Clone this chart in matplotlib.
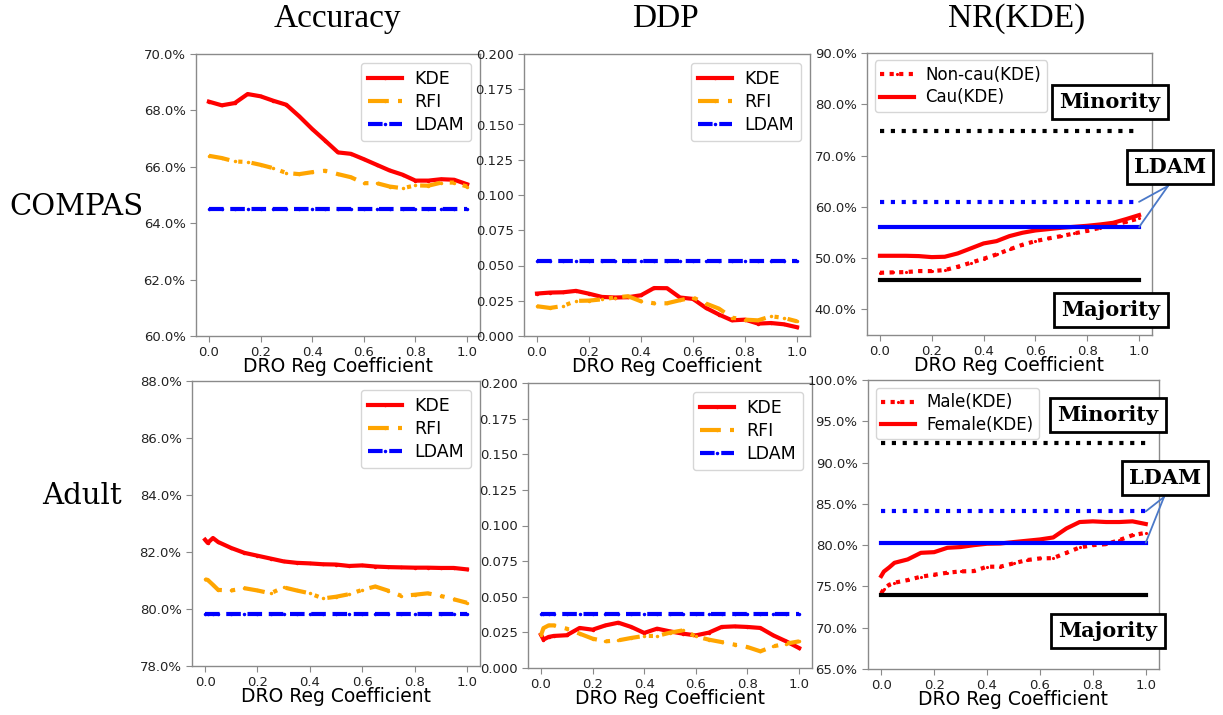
import matplotlib
matplotlib.use("Agg")
import matplotlib.pyplot as plt
from matplotlib.ticker import FuncFormatter
import numpy as np

# ---------------- data ----------------
x_compas = [0.0, 0.05, 0.1, 0.15, 0.2, 0.25, 0.3, 0.35, 0.4, 0.45, 0.5,
            0.55, 0.6, 0.65, 0.7, 0.75, 0.8, 0.85, 0.9, 0.95, 1.0]
x_adult = [0.0, 0.01, 0.03, 0.05, 0.1, 0.15, 0.2, 0.25, 0.3, 0.35, 0.4, 0.45,
           0.5, 0.55, 0.6, 0.65, 0.7, 0.75, 0.8, 0.85, 0.9, 0.95, 1.0]

# COMPAS accuracy (%)
compas_acc_kde = [68.31, 68.18, 68.26, 68.58, 68.50, 68.34, 68.20, 67.79, 67.34, 66.93, 66.51,
                  66.46, 66.27, 66.07, 65.87, 65.72, 65.51, 65.51, 65.56, 65.54, 65.38]
compas_acc_rfi = [66.39, 66.31, 66.19, 66.17, 66.07, 65.95, 65.78, 65.74, 65.81, 65.86, 65.74,
                  65.63, 65.42, 65.42, 65.30, 65.24, 65.34, 65.33, 65.44, 65.44, 65.30]
compas_acc_ldam = 64.5

# COMPAS DDP
compas_ddp_kde = [0.0301, 0.0308, 0.0310, 0.0320, 0.0300, 0.0277, 0.0273, 0.0275, 0.0289, 0.0340,
                  0.0339, 0.0273, 0.0263, 0.0199, 0.0152, 0.0111, 0.0116, 0.0088, 0.0092, 0.0083, 0.0062]
compas_ddp_rfi = [0.0211, 0.0199, 0.0213, 0.0249, 0.0251, 0.0260, 0.0273, 0.0282, 0.0246, 0.0232,
                  0.0232, 0.0254, 0.0273, 0.0230, 0.0194, 0.0130, 0.0116, 0.0111, 0.0140, 0.0128, 0.0104]
compas_ddp_ldam = 0.0533

# COMPAS NR (%)
compas_nr_noncau = [47.14, 47.21, 47.27, 47.47, 47.47, 47.66, 48.31, 49.09, 49.87, 50.71, 51.69,
                    52.60, 53.31, 53.83, 54.29, 54.81, 55.32, 55.91, 56.43, 57.08, 57.73]
compas_nr_cau = [50.45, 50.45, 50.45, 50.39, 50.19, 50.26, 50.91, 51.88, 52.86, 53.31, 54.29,
                 54.94, 55.39, 55.65, 55.91, 56.10, 56.30, 56.56, 56.88, 57.60, 58.38]
compas_nr_minority = 74.8
compas_nr_ldam_minority = 60.97
compas_nr_ldam_majority = 56.04
compas_nr_majority = 45.78

# Adult accuracy (%)
adult_acc_kde = [82.43, 82.32, 82.49, 82.35, 82.14, 81.97, 81.87, 81.77, 81.67, 81.62, 81.60, 81.57,
                 81.56, 81.51, 81.53, 81.49, 81.47, 81.46, 81.45, 81.45, 81.44, 81.44, 81.39]
adult_acc_rfi = [81.04, 81.02, 80.85, 80.67, 80.65, 80.73, 80.65, 80.55, 80.76, 80.65, 80.55, 80.37,
                 80.43, 80.52, 80.67, 80.79, 80.64, 80.46, 80.50, 80.55, 80.46, 80.34, 80.22]
adult_acc_ldam = 79.81

# Adult DDP
adult_ddp_kde = [0.0234, 0.0200, 0.0218, 0.0225, 0.0230, 0.0281, 0.0269, 0.0299, 0.0318, 0.0288, 0.0246,
                 0.0276, 0.0257, 0.0241, 0.0229, 0.0248, 0.0288, 0.0292, 0.0288, 0.0281, 0.0229, 0.0187, 0.0140]
adult_ddp_rfi = [0.0229, 0.0280, 0.0299, 0.0299, 0.0276, 0.0241, 0.0206, 0.0187, 0.0194, 0.0211, 0.0225,
                 0.0225, 0.0248, 0.0264, 0.0222, 0.0199, 0.0182, 0.0164, 0.0147, 0.0117, 0.0152, 0.0171, 0.0187]
adult_ddp_ldam = 0.0381

# Adult NR (%)
adult_nr_male = [74.16, 74.70, 75.20, 75.45, 75.77, 76.18, 76.42, 76.66, 76.82, 76.86, 77.39, 77.39,
                 77.79, 78.19, 78.39, 78.43, 79.07, 79.72, 80.00, 80.12, 80.61, 81.21, 81.49]
adult_nr_female = [76.26, 76.80, 77.30, 77.86, 78.27, 79.07, 79.15, 79.68, 79.77, 80.00, 80.17, 80.20,
                   80.37, 80.53, 80.69, 80.93, 82.02, 82.80, 82.88, 82.80, 82.80, 82.88, 82.56]
adult_nr_minority = 92.33
adult_nr_ldam_minority = 84.09
adult_nr_ldam_majority = 80.30
adult_nr_majority = 73.96

col_titles = ["Accuracy", "DDP", "NR(KDE)"]
row_titles = ["COMPAS", "Adult"]
xlabel = "DRO Reg Coefficient"

# ---------------- figure ----------------
W, H = 1223, 715
fig = plt.figure(figsize=(W / 100, H / 100), dpi=100)


def add_axes_px(left, top, right, bottom):
    return fig.add_axes([left / W, 1 - bottom / H, (right - left) / W, (bottom - top) / H])


pct = FuncFormatter(lambda v, p: f"{v:.1f}%")
ddpf = FuncFormatter(lambda v, p: f"{v:.3f}")
RED, ORANGE, BLUE = "#ff0000", "#ffa500", "#0000ff"
LW = 3
LEG = dict(fontsize=12.5, handlelength=2.0, borderpad=0.4, labelspacing=0.3,
           handletextpad=0.7, borderaxespad=0.5)
LEG_NR = dict(fontsize=12, handlelength=2.0, borderpad=0.35, labelspacing=0.25,
              handletextpad=0.7, borderaxespad=0.45)


def style(ax):
    for s in ax.spines.values():
        s.set_color("#8a8a8a")
        s.set_linewidth(1.0)
    ax.tick_params(colors="#8a8a8a", labelcolor="#222222", labelsize=9.5, length=4)
    ax.set_xticks([0, 0.2, 0.4, 0.6, 0.8, 1.0])
    ax.set_xlabel(xlabel, fontsize=13.5, labelpad=-1.5)


def three_lines(ax, x, kde, rfi, ldam):
    ax.plot(x, kde, color=RED, lw=LW, marker='.', ms=3, label="KDE")
    ax.plot(x, rfi, color=ORANGE, lw=LW, marker='.', ms=3, ls=(0, (5, 2.2, 1, 2.2)), label="RFI")
    ax.plot(x, [ldam] * len(x), color=BLUE, lw=LW, marker='.', ms=3, ls=(0, (3.5, 1.6)), label="LDAM")
    ax.legend(loc="upper right", **LEG)


def nr_lines(ax, x, dotted, solid, lab_dotted, lab_solid, mino, ldam_mino, ldam_majo, majo):
    ax.plot(x, dotted, color=RED, lw=LW, ls=(0, (1, 1.3)), marker='.', ms=2.5, label=lab_dotted)
    ax.plot(x, solid, color=RED, lw=LW, label=lab_solid)
    ax.plot(x_compas, [mino] * len(x_compas), color="black", lw=LW, ls=(0, (1, 1.6)), zorder=6)
    ax.plot(x_compas, [ldam_mino] * len(x_compas), color=BLUE, lw=LW, ls=(0, (1, 1.6)))
    ax.plot([x[0], x[-1]], [ldam_majo, ldam_majo], color=BLUE, lw=LW)
    ax.plot([x[0], x[-1]], [majo, majo], color="black", lw=LW)
    ax.legend(loc="upper left", **LEG_NR)


# Row 1
ax1 = add_axes_px(196, 54, 480, 336)
three_lines(ax1, x_compas, compas_acc_kde, compas_acc_rfi, compas_acc_ldam)
ax1.set_ylim(60, 70)
ax1.set_yticks([60, 62, 64, 66, 68, 70])
ax1.yaxis.set_major_formatter(pct)
style(ax1)

ax2 = add_axes_px(524, 54, 810, 336)
three_lines(ax2, x_compas, compas_ddp_kde, compas_ddp_rfi, compas_ddp_ldam)
ax2.set_ylim(0, 0.2)
ax2.set_yticks(np.arange(0, 0.2001, 0.025))
ax2.yaxis.set_major_formatter(ddpf)
style(ax2)

ax3 = add_axes_px(867, 53, 1152, 335)
nr_lines(ax3, x_compas, compas_nr_noncau, compas_nr_cau, "Non-cau(KDE)", "Cau(KDE)",
         compas_nr_minority, compas_nr_ldam_minority, compas_nr_ldam_majority, compas_nr_majority)
ax3.set_ylim(35, 90)
ax3.set_yticks([40, 50, 60, 70, 80, 90])
ax3.yaxis.set_major_formatter(pct)
style(ax3)

# Row 2
ax4 = add_axes_px(192, 381, 480, 666)
three_lines(ax4, x_adult, adult_acc_kde, adult_acc_rfi, adult_acc_ldam)
ax4.set_ylim(78, 88)
ax4.set_yticks([78, 80, 82, 84, 86, 88])
ax4.yaxis.set_major_formatter(pct)
style(ax4)

ax5 = add_axes_px(528, 383, 812, 668)
three_lines(ax5, x_adult, adult_ddp_kde, adult_ddp_rfi, adult_ddp_ldam)
ax5.set_ylim(0, 0.2)
ax5.set_yticks(np.arange(0, 0.2001, 0.025))
ax5.yaxis.set_major_formatter(ddpf)
style(ax5)

ax6 = add_axes_px(868, 380, 1159, 669)
nr_lines(ax6, x_adult, adult_nr_male, adult_nr_female, "Male(KDE)", "Female(KDE)",
         adult_nr_minority, adult_nr_ldam_minority, adult_nr_ldam_majority, adult_nr_majority)
ax6.set_ylim(65, 100)
ax6.set_yticks([65, 70, 75, 80, 85, 90, 95, 100])
ax6.yaxis.set_major_formatter(pct)
style(ax6)

# Column and row titles
for cx, t in zip([337, 665, 1017], col_titles):
    fig.text(cx / W, 1 - 19 / H, t, ha="center", va="center",
             family="Liberation Serif", fontsize=24)
fig.text(76 / W, 1 - 207 / H, row_titles[0], ha="center", va="center",
         family="DejaVu Serif", fontsize=21)
fig.text(82 / W, 1 - 496 / H, row_titles[1], ha="center", va="center",
         family="DejaVu Serif", fontsize=21)

# Annotation boxes
box = dict(boxstyle="square,pad=0.35", fc="white", ec="black", lw=2)


def label_box(cx, cy, text):
    fig.text(cx / W, 1 - cy / H, text, ha="center", va="center", family="DejaVu Serif",
             fontweight="bold", fontsize=15, bbox=box, zorder=10)


ARROW = "#4a78c8"


def ldam_arrows(ax, px, py, y1, y2):
    for yv in (y1, y2):
        ax.annotate("", xy=(1.0, yv), xycoords="data", xytext=(px / W, 1 - py / H),
                    textcoords="figure fraction", annotation_clip=False,
                    arrowprops=dict(arrowstyle="-", color=ARROW, lw=1.3, shrinkA=0, shrinkB=0))


label_box(1110, 102, "Minority")
label_box(1170, 167, "LDAM")
label_box(1111, 310, "Majority")
ldam_arrows(ax3, 1168, 186, compas_nr_ldam_minority, compas_nr_ldam_majority)

label_box(1108, 415, "Minority")
label_box(1165, 478, "LDAM")
label_box(1108, 631, "Majority")
ldam_arrows(ax6, 1164, 497, adult_nr_ldam_minority, adult_nr_ldam_majority)

fig.savefig("out.png", dpi=100)
